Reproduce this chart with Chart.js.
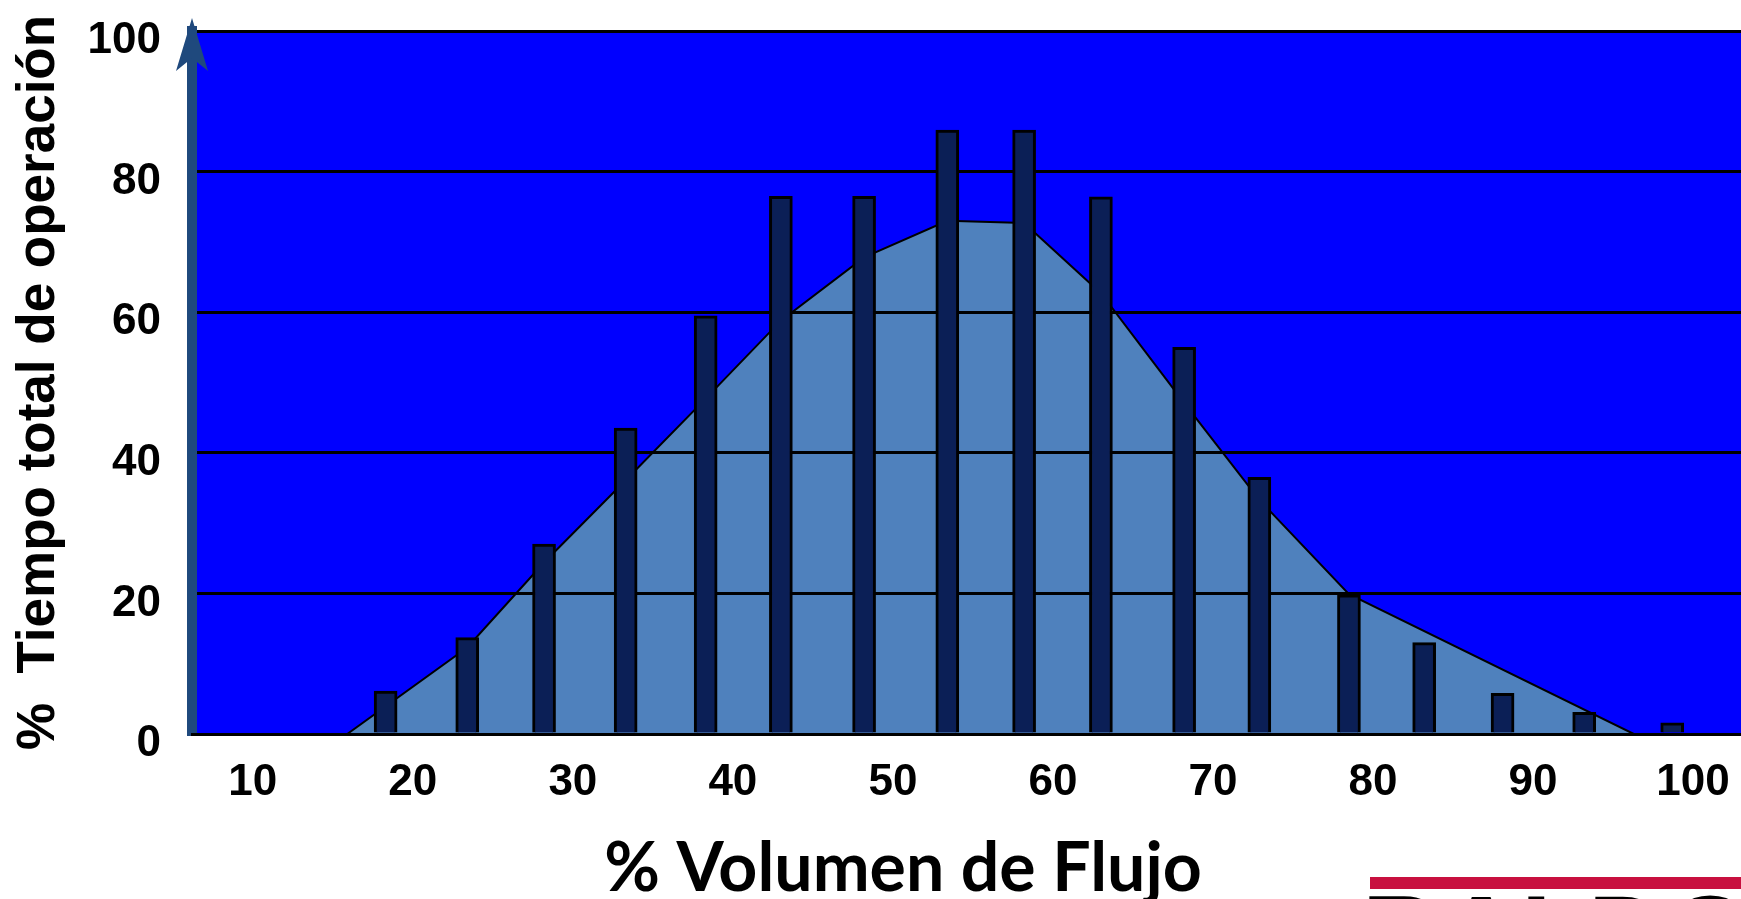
<!doctype html>
<html>
<head>
<meta charset="utf-8">
<title>% Tiempo total de operación vs % Volumen de Flujo</title>
<script src="https://cdn.jsdelivr.net/npm/chart.js@4"></script>
<style>
  html, body { margin: 0; padding: 0; background: #fff; }
  #wrap { position: relative; width: 1741px; height: 899px; }
</style>
</head>
<body>
<div id="wrap"><canvas id="chart"></canvas></div>
<script>
// bar positions on the flow axis (% volumen de flujo)
const barX = [18.3, 23.4, 28.2, 33.3, 38.3, 43.0, 48.2, 53.4, 58.2, 63.0, 68.2, 72.9, 78.5, 83.2, 88.1, 93.2, 98.7];
// bar heights (% tiempo total de operación)
const barY = [6.1, 13.7, 27.0, 43.5, 59.5, 76.5, 76.5, 85.9, 85.9, 76.4, 55.0, 36.5, 19.8, 13.0, 5.8, 3.1, 1.6];
// corners of the shaded distribution outline
const areaX = [15.9, 23.4, 28.2, 33.3, 38.3, 43.0, 48.2, 53.4, 58.2, 63.0, 68.2, 72.9, 78.5, 96.3];
const areaY = [0, 12.3, 24.4, 36.1, 47.7, 58.8, 67.8, 73.0, 72.7, 62.7, 47.1, 33.3, 19.9, 0];
const xTicks = [10, 20, 30, 40, 50, 60, 70, 80, 90, 100];
const yTicks = [0, 20, 40, 60, 80, 100];

const yTitle = '%  Tiempo total de operación';
const xTitle = '% Volumen de Flujo';
const logoText = 'BALDOR';

const tickFont = { family: 'Liberation Sans', size: 44, weight: 'bold' };

// blue plot background (css, so the filled area and grid can sit on top of it),
// arrow head on the y axis, x title and the cut-off logo at the bottom right
const decor = {
  id: 'decor',
  afterLayout(chart) {
    const a = chart.chartArea;
    chart.canvas.style.background =
      `linear-gradient(#0000ff, #0000ff) ${a.left}px ${a.top}px / ${a.right - a.left}px ${a.bottom - a.top}px no-repeat #ffffff`;
  },
  afterDraw(chart) {
    const { ctx, chartArea: a } = chart;
    ctx.save();
    ctx.fillStyle = '#1F497D';
    ctx.beginPath();
    ctx.moveTo(a.left, a.top - 13);
    ctx.lineTo(a.left + 16, a.top + 40);
    ctx.lineTo(a.left, a.top + 27);
    ctx.lineTo(a.left - 16, a.top + 40);
    ctx.closePath();
    ctx.fill();

    ctx.fillStyle = '#000';
    ctx.font = 'bold 68px Lato';
    ctx.textAlign = 'center';
    ctx.textBaseline = 'alphabetic';
    ctx.fillText(xTitle, a.left + 0.459 * (a.right - a.left), a.bottom + 157);

    const w = chart.width;
    ctx.fillStyle = '#c8103f';
    ctx.fillRect(w - 371, 877, 371, 12);
    ctx.fillStyle = '#000';
    ctx.textAlign = 'left';
    ctx.font = 'bold 110px "Liberation Sans"';
    ctx.fillText(logoText, w - 379, 972);
    ctx.restore();
  }
};

new Chart(document.getElementById('chart'), {
  type: 'bar',
  data: {
    datasets: [
      {
        type: 'bar',
        label: 'Tiempo',
        data: barX.map((x, i) => ({ x, y: barY[i] })),
        backgroundColor: '#0b1f56',
        borderColor: '#000',
        borderWidth: 3,
        barThickness: 23,
        order: 1
      },
      {
        type: 'line',
        label: 'Distribución',
        data: areaX.map((x, i) => ({ x, y: areaY[i] })),
        backgroundColor: '#4F81BD',
        borderColor: '#000',
        borderWidth: 2,
        pointRadius: 0,
        tension: 0,
        fill: 'origin',
        order: 2
      }
    ]
  },
  options: {
    responsive: true,
    maintainAspectRatio: false,
    animation: false,
    events: [],
    layout: { padding: { top: 31, right: 0, bottom: 0, left: 0 } },
    plugins: {
      legend: { display: false },
      tooltip: { enabled: false },
      filler: { drawTime: 'beforeDraw' }
    },
    scales: {
      x: {
        type: 'linear',
        min: 6.2,
        max: 103,
        offset: false,
        grid: { display: true, color: 'rgba(0,0,0,0)', drawTicks: false, offset: false },
        border: { display: true, color: '#000', width: 3, z: 1 },
        ticks: { font: tickFont, color: '#000', padding: 22, maxRotation: 0, autoSkip: false },
        afterBuildTicks: s => { s.ticks = xTicks.map(v => ({ value: v })); },
        afterFit: s => { s.height = 165; s.paddingLeft = 0; s.paddingRight = 0; }
      },
      y: {
        min: 0,
        max: 100,
        grid: { color: '#000', lineWidth: 3, drawTicks: false },
        border: { display: true, color: '#1F497D', width: 10 },
        ticks: { font: tickFont, color: '#000', padding: 31, labelOffset: 10 },
        afterBuildTicks: s => { s.ticks = yTicks.map(v => ({ value: v })); },
        title: {
          display: true,
          text: yTitle,
          color: '#000',
          font: { family: 'Liberation Sans', size: 53, weight: 'bold', lineHeight: 1.2 },
          padding: { top: 8, bottom: 0 }
        },
        afterFit: s => { s.width = 192; s.paddingTop = 0; s.paddingBottom = 0; }
      }
    }
  },
  plugins: [decor]
});
</script>
</body>
</html>
